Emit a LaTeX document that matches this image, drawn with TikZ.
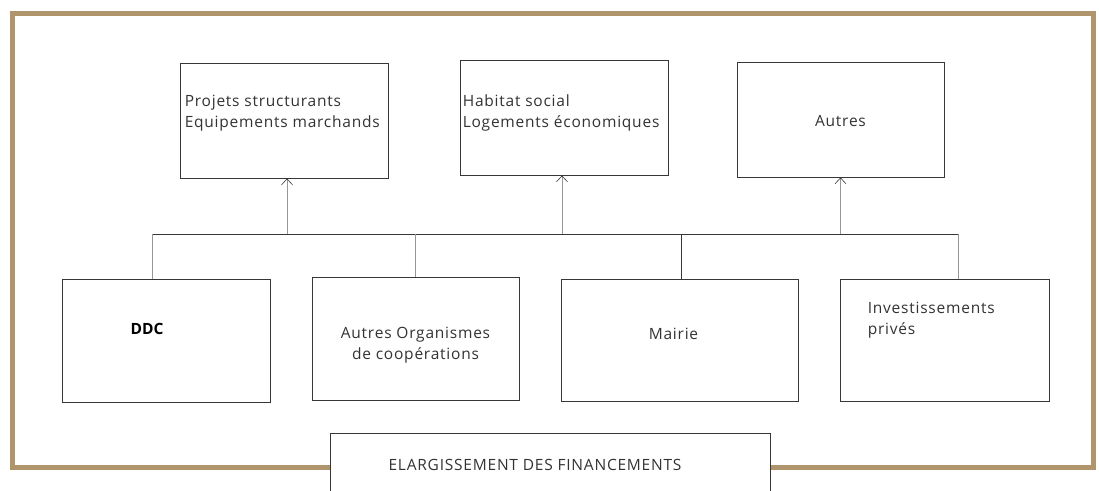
\documentclass[tikz,border=0pt]{standalone}
\usepackage{fontspec}
\setmainfont{Open Sans}
\usetikzlibrary{arrows.meta, positioning, calc}
\definecolor{framebrown}{RGB}{176, 148, 108}
\definecolor{boxline}{RGB}{55, 55, 55}
\definecolor{linkgray}{RGB}{150, 150, 150}

\tikzset{
  panel/.style={draw=boxline, line width=0.8pt, fill=white, inner sep=0pt},
  lbl/.style={font=\fontsize{15.5}{21}\selectfont\addfontfeatures{LetterSpace=5},
    text=black!80, inner sep=0pt, align=left},
  feed/.style={draw=linkgray, line width=0.6pt},
  rise/.style={feed, -{Straight Barb[length=6pt, width=11pt, color=boxline]}},
}

\begin{document}
\begin{tikzpicture}[x=1pt, y=-1pt]
  \clip (0,0) rectangle (1099,490);
  \fill[white] (0,0) rectangle (1099,490);

  % outer frame
  \draw[framebrown, line width=5pt] (12,13) rectangle (1093,467);

  % what is financed
  \node[panel, minimum width=208pt, minimum height=115pt] (projets) at (284,120.5) {};
  \node[lbl, anchor=west] (projets-t) at ($(projets.west)+(5,-7)$)
    {Projets structurants\\Equipements marchands};
  \node[panel, minimum width=208pt, minimum height=115pt] (habitat) at (564,117.5) {};
  \node[lbl, anchor=west] (habitat-t) at ($(habitat.west)+(3,-5)$)
    {Habitat social\\Logements économiques};
  \node[panel, minimum width=207pt, minimum height=115pt] (autres) at (840.5,119.5) {};
  \node[lbl] (autres-t) at ($(autres.center)+(0,2)$) {Autres};

  % who finances
  \node[panel, minimum width=208pt, minimum height=123pt] (ddc) at (166,340.5) {};
  \node[lbl, font=\fontsize{15.5}{21}\selectfont\bfseries, text=black] (ddc-t)
    at ($(ddc.center)+(-19,-11.5)$) {DDC};
  \node[panel, minimum width=207pt, minimum height=123pt] (organismes) at (415.5,338.5) {};
  \node[lbl, align=center] (organismes-t) at ($(organismes.center)+(0,7)$)
    {Autres Organismes\\ de coopérations};
  \node[panel, minimum width=237pt, minimum height=122pt] (mairie) at (679.5,340) {};
  \node[lbl] (mairie-t) at ($(mairie.center)+(-6,-6)$) {Mairie};
  \node[panel, minimum width=209pt, minimum height=122pt] (prives) at (944.5,340) {};
  \node[lbl, anchor=west] (prives-t) at ($(prives.west)+(28,-19.5)$)
    {Investissements\\privés};

  % title box, cut by the page edge
  \node[panel, minimum width=440pt, minimum height=80pt] (titre) at (550,473) {};
  \node[lbl] (titre-t) at (535,465) {ELARGISSEMENT DES FINANCEMENTS};

  % bus
  \coordinate (busL) at (152,234);
  \coordinate (busR) at (958,234);
  \coordinate (busO) at (415,234);
  \coordinate (busM) at (681,234);
  \draw[boxline, line width=0.6pt] (busL) -- (busR);
  \draw[feed] (busL) -- (ddc.north -| busL);
  \draw[feed] (busO) -- (organismes.north -| busO);
  \draw[boxline, line width=1pt] (busM) -- (mairie.north -| busM);
  \draw[feed] (busR) -- (prives.north -| busR);
  \draw[rise] ([xshift=3pt]projets.south |- busL) -- ([xshift=3pt]projets.south);
  \draw[rise] ([xshift=-2pt]habitat.south |- busL) -- ([xshift=-2pt]habitat.south);
  \draw[rise] (autres.south |- busL) -- (autres.south);
\end{tikzpicture}
\end{document}
